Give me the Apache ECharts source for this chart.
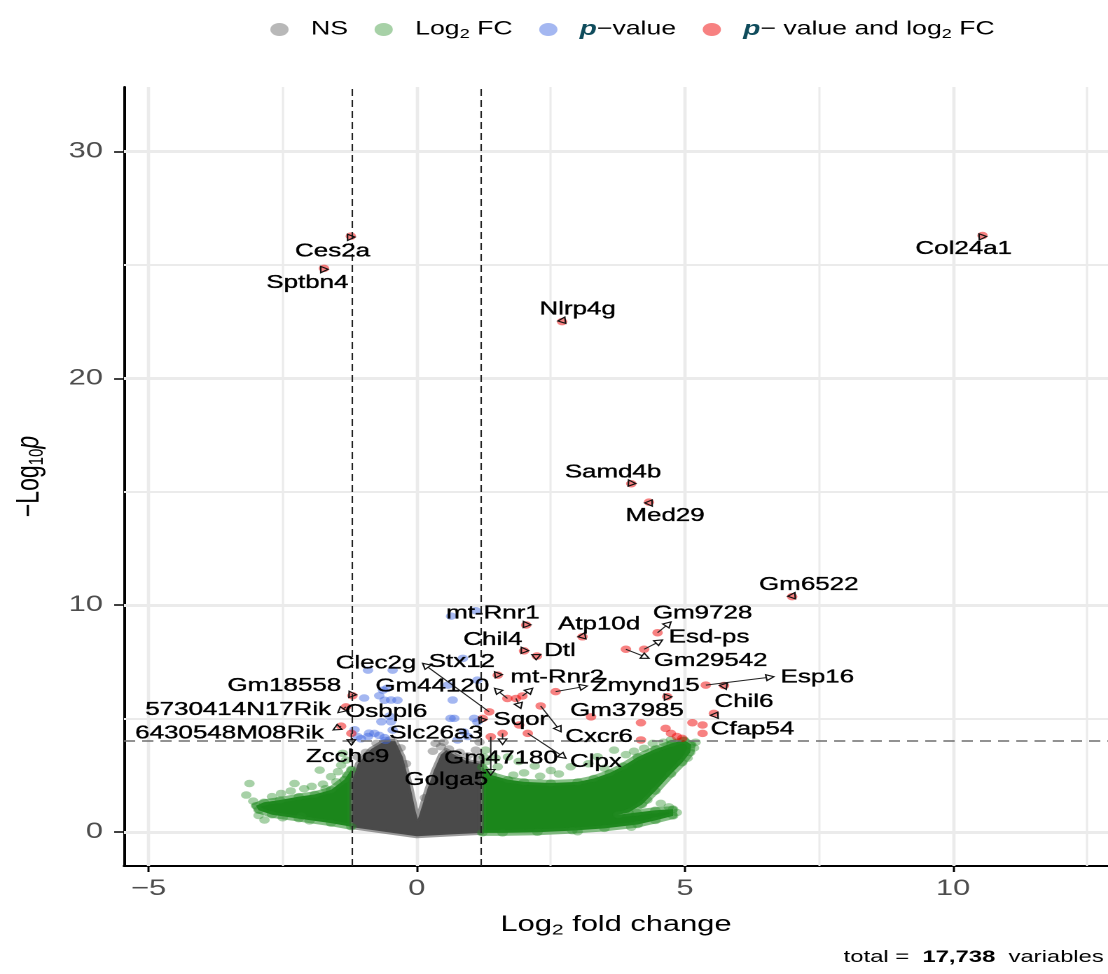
<!DOCTYPE html>
<html><head><meta charset="utf-8">
<script src="https://cdn.jsdelivr.net/npm/echarts@6/dist/echarts.min.js"></script>
<style>
html,body{margin:0;padding:0;overflow:hidden;background:#fff;width:1108px;height:974px}
#wrap{position:absolute;left:0;top:0;width:1108px;height:974px;overflow:hidden;background:#fff}
#chart{position:absolute;left:0;top:0;width:791px;height:974px;transform:scaleX(1.40076);transform-origin:0 0}
</style></head>
<body><div id="wrap"><div id="chart"></div></div>
<script>
// ---------- axis ticks & grid ----------
const xTicks = [-5, 0, 5, 10];
const yTicks = [0, 10, 20, 30];
const xMinor = [-2.5, 2.5, 7.5, 12.5];
const yMinor = [5, 15, 25];
const fcCutoffs = [-1.2, 1.2];
const pCutoff = 4;
const totalVariables = '17,738';

// ---------- dense point clouds (outlines) ----------
const nsOutline = [[-1.2,0.2],[-1.2,2.3],[-1.1,3.0],[-0.85,3.65],[-0.6,4.0],[-0.4,4.0],[-0.26,3.3],[-0.12,2.0],[-0.02,0.9],[0.02,0.55],[0.08,1.0],[0.2,1.9],[0.32,2.7],[0.45,3.4],[0.55,3.6],[0.7,3.4],[0.9,3.15],[1.2,3.0],[1.2,-0.05],[0.6,-0.12],[0.0,-0.2],[-0.6,0.0]];
const fcLeftOutline = [[-1.22,2.75],[-1.35,2.3],[-1.6,1.85],[-1.9,1.65],[-2.2,1.55],[-2.55,1.4],[-2.85,1.3],[-3.0,1.15],[-2.95,0.95],[-2.7,0.75],[-2.2,0.58],[-1.6,0.38],[-1.22,0.22]];
const fcRightOutline = [[1.22,2.85],[1.4,2.5],[1.7,2.3],[2.0,2.2],[2.5,2.15],[3.0,2.2],[3.3,2.35],[3.6,2.6],[3.85,2.9],[4.12,3.3],[4.45,3.65],[4.75,3.9],[4.98,4.05],[5.12,3.85],[5.1,3.5],[4.95,3.05],[4.74,2.55],[4.45,1.8],[4.2,1.2],[3.95,0.85],[3.75,0.75],[4.1,0.85],[4.45,0.95],[4.78,1.0],[4.78,0.7],[4.45,0.5],[4.12,0.32],[3.5,0.15],[2.9,0.05],[2.25,-0.02],[1.6,-0.05],[1.22,-0.05]];

// ---------- scattered points ----------
const nsPoints = [[0.35,3.9],[0.45,3.75],[0.6,3.65],[0.3,3.55],[0.8,3.5],[1.17,3.95],[1.1,3.6],[0.95,3.35],[-0.75,3.9],[-0.95,3.5],[-0.3,3.7],[-0.2,3.0],[0.15,1.5],[-1.1,3.3],[1.15,3.2],[-0.5,4.05],[0.5,3.95]];
const fcPoints = [[-3.12,2.13],[-3.18,1.62],[-3.05,1.35],[-2.95,0.72],[-2.84,0.52],[-2.7,1.55],[-2.53,1.69],[-2.35,1.8],[-2.28,2.13],[-2.1,1.9],[-1.96,2.0],[-1.81,2.72],[-1.75,2.1],[-1.6,2.43],[-1.5,2.2],[-1.47,2.65],[-1.41,2.94],[-1.32,3.16],[-1.38,3.46],[-1.3,2.5],[-2.5,0.62],[-2.0,0.48],[-1.7,1.9],[-2.15,0.7],
  [1.3,3.1],[1.28,3.6],[1.47,3.25],[1.51,2.87],[1.7,3.3],[1.8,2.5],[2.0,2.6],[2.2,2.9],[2.3,2.45],[2.5,2.7],[2.65,2.55],[2.87,2.87],[3.2,3.0],[3.37,3.31],[3.5,2.8],[3.68,3.6],[3.9,3.4],[4.05,3.55],[4.24,3.68],[4.4,3.9],[4.6,3.95],[4.74,4.05],[5.17,3.7],[5.2,3.95],[5.05,3.25],[4.55,1.25],[4.7,1.1],[4.85,0.85],[4.3,1.4],[3.0,0.0],[4.0,0.2],[1.25,3.3],[1.9,3.1]];
const pvalPoints = [[0.64,9.51],[1.10,9.75],[0.86,7.65],[-0.91,7.13],[-0.45,7.13],[-0.98,5.9],[-0.7,6.0],[-0.63,6.25],[-0.55,6.33],[-0.48,5.81],[-0.6,5.8],[-0.36,5.8],[0.67,5.81],[1.13,6.69],[0.58,6.47],[0.7,5.0],[0.63,5.0],[1.07,5.0],[-0.66,4.85],[-0.48,4.85],[-0.51,5.1],[-1.16,4.5],[-1.04,4.1],[-0.91,4.2],[-0.89,4.35],[-0.79,4.34],[-0.7,4.25],[-0.6,4.15],[-0.58,4.03],[-0.45,4.49],[-1.10,4.19],[0.88,4.4],[1.13,4.84],[0.76,4.05],[0.95,4.2]];
const sigPoints = [[1.91,4.71],[3.25,5.07],[4.18,4.81],[4.18,4.05],[4.64,4.56],[4.74,4.34],[4.85,4.2],[4.95,4.12],[5.14,4.81],[5.33,4.71],[5.33,4.34]];

// ---------- labelled genes ----------
const geneNames = ['Ces2a','Sptbn4','Col24a1','Nlrp4g','Samd4b','Med29','Gm6522','Gm9728','Esd-ps','Gm29542','Atp10d','Dtl','Chil4','mt-Rnr1','Stx12','mt-Rnr2','Gm44120','Sqor','Zmynd15','Gm37985','Esp16','Chil6','Cfap54','Cxcr6','Clpx','Gm47180','Golga5','Slc26a3','Clec2g','Gm18558','5730414N17Rik','Osbpl6','6430548M08Rik','Zcchc9'];
const geneX  = [-1.23,-1.73,10.55,2.71,4.0,4.33,7.0,4.49,4.24,3.90,3.09,2.24,2.0,2.04,1.51,1.97,1.69,1.85,2.59,4.67,5.39,5.73,5.54,2.31,2.07,1.60,1.38,1.23,1.35,-1.2,-1.32,null,-1.41,-1.22];
const geneY  = [26.27,24.85,26.3,22.5,15.35,14.54,10.37,8.78,8.05,8.05,8.6,7.75,7.98,9.12,6.91,5.99,5.88,5.88,6.18,5.96,6.47,6.45,5.22,5.55,4.34,4.34,4.19,5.0,5.29,6.0,5.51,null,4.66,4.34];
const labelX = [-1.57,-2.04,10.2,3.0,3.66,4.63,7.31,5.33,5.45,5.48,3.4,2.67,1.42,1.42,0.84,2.62,0.29,1.94,4.27,3.92,7.47,6.10,6.26,3.40,3.34,1.57,0.55,0.36,-0.76,-2.47,-3.33,-0.57,-3.49,-1.29];
const labelY = [25.6,24.2,25.7,23.05,15.85,13.94,10.88,9.63,8.58,7.53,9.15,7.98,8.46,9.63,7.5,6.81,6.42,4.93,6.43,5.34,6.81,5.73,4.52,4.19,3.09,3.24,2.28,4.34,7.43,6.43,5.37,5.29,4.34,3.31];
const headX  = [-1.29,-1.79,10.49,2.76,3.95,4.39,7.05,4.74,4.58,4.33,3.13,2.31,1.95,1.99,1.45,2.16,1.45,1.94,3.18,4.62,6.66,5.77,5.62,2.69,2.78,1.60,1.38,1.17,0.11,-1.26,-1.47,null,-1.56,-1.22];
const headY  = [26.08,24.66,26.1,22.7,15.52,14.36,10.55,9.26,8.46,7.65,8.78,7.82,8.14,9.28,7.06,6.33,6.33,5.44,6.43,5.8,6.84,6.28,5.0,4.41,3.24,3.85,2.5,4.78,7.43,6.2,5.25,null,4.49,3.82];

// ---------- styling ----------
const FONT = 'Liberation Sans, Arial, Helvetica, sans-serif';
const C_NS = 'rgba(77,77,77,0.5)', C_FC = 'rgba(34,139,34,0.5)', C_P = 'rgba(65,105,225,0.6)', C_SIG = 'rgba(238,0,0,0.62)';
const P_COLOR = '#0f4c5c';

const geneDots = [];
geneNames.forEach((n, i) => { if (geneX[i] != null) geneDots.push([geneX[i], geneY[i]]); });

function areaSeries(name, pts, fill, edge, lw, z) {
  return {
    type: 'custom', name, silent: true, z, clip: true,
    data: [pts[0]],
    renderItem: (params, api) => {
      const p = pts.map(d => api.coord(d));
      return { type: 'polygon', shape: { points: p },
        style: { fill, stroke: edge, lineWidth: lw, lineJoin: 'round' } };
    }
  };
}

function gridLine(axis, v, w) {
  const o = {}; o[axis] = v;
  o.lineStyle = { color: '#ebebeb', width: w, type: 'solid' };
  return o;
}

const gridMarks = [].concat(
  xTicks.map(v => gridLine('xAxis', v, 2.3)),
  xMinor.map(v => gridLine('xAxis', v, 1.5)),
  yTicks.map(v => gridLine('yAxis', v, 3)),
  yMinor.map(v => gridLine('yAxis', v, 2))
);

const cutMarks = [].concat(
  fcCutoffs.map(v => ({ xAxis: v, lineStyle: { color: '#222', width: 1.1, type: [7, 4] } })),
  [{ yAxis: pCutoff, lineStyle: { color: '#6e6e6e', width: 1.6, type: [8, 5] } }]
);

const richBase = {
  g: { width: 11 },
  t: { fontSize: 19, fontFamily: FONT, color: '#000', lineHeight: 24 },
  s: { fontSize: 13, fontFamily: FONT, color: '#000', lineHeight: 14, padding: [10, 0, 0, 0] },
  p: { fontSize: 20, fontFamily: FONT, color: P_COLOR, fontWeight: 'bold', fontStyle: 'italic', lineHeight: 24 }
};
const legendText = {
  'NS': '{g|}{t|NS}',
  'Log2 FC': '{g|}{t|Log}{s|2}{t| FC}',
  'p-value': '{g|}{p|p}{t|\u2212value}',
  'p-value and log2 FC': '{g|}{p|p}{t|\u2212 value and log}{s|2}{t| FC}'
};

const chart = echarts.init(document.getElementById('chart'), null, { renderer: 'canvas', devicePixelRatio: 2 });

const fmt = v => v < 0 ? '\u2212' + Math.abs(v) : String(v);

chart.setOption({
  animation: false,
  backgroundColor: '#fff',
  grid: { left: 87.6, right: 0, top: 87, bottom: 108, containLabel: false },
  legend: {
    top: 18, left: 193, padding: 0, itemGap: 19, itemWidth: 13, itemHeight: 13, icon: 'circle',
    selectedMode: false,
    data: ['NS', 'Log2 FC', 'p-value', 'p-value and log2 FC'],
    formatter: n => legendText[n],
    textStyle: { rich: richBase }
  },
  xAxis: {
    type: 'value', min: -5.46, max: 12.89,
    splitLine: { show: false },
    axisLine: { onZero: false, lineStyle: { color: '#000', width: 2 } },
    axisTick: { customValues: xTicks, length: 6, lineStyle: { color: '#000', width: 1.5 } },
    axisLabel: { customValues: xTicks, fontSize: 22, fontFamily: FONT, color: '#4d4d4d', margin: 12, formatter: fmt },
    name: '{t|Log}{s|2}{t| fold change}', nameLocation: 'middle', nameGap: 46,
    nameTextStyle: { rich: {
      t: { fontSize: 22, fontFamily: FONT, color: '#000', lineHeight: 26 },
      s: { fontSize: 15, fontFamily: FONT, color: '#000', lineHeight: 16, padding: [11, 0, 0, 0] } } }
  },
  yAxis: {
    type: 'value', min: -1.51, max: 32.85,
    splitLine: { show: false },
    axisLine: { onZero: false, lineStyle: { color: '#000', width: 2 } },
    axisTick: { customValues: yTicks, length: 7, lineStyle: { color: '#000', width: 1.5 } },
    axisLabel: { customValues: yTicks, fontSize: 22, fontFamily: FONT, color: '#4d4d4d', margin: 15 },
    name: '{t|\u2212Log}{s|10}{i|p}', nameLocation: 'middle', nameGap: 54, nameRotate: 90,
    nameTextStyle: { rich: {
      t: { fontSize: 23, fontFamily: FONT, color: '#000', lineHeight: 27 },
      s: { fontSize: 15, fontFamily: FONT, color: '#000', lineHeight: 16, padding: [11, 0, 0, 0] },
      i: { fontSize: 23, fontFamily: FONT, color: '#000', fontStyle: 'italic', lineHeight: 27 } } }
  },
  graphic: [{
    type: 'text', right: 3, top: 949, silent: true,
    style: { text: '{a|total =  }{b|' + totalVariables + '}{a|  variables}', rich: {
      a: { fontSize: 17, fontFamily: FONT, fill: '#000', color: '#000' },
      b: { fontSize: 17, fontFamily: FONT, fontWeight: 'bold', fill: '#000', color: '#000' } } }
  }],
  series: [
    { type: 'scatter', name: 'grid', silent: true, z: 1, data: [],
      markLine: { z: 1, silent: true, symbol: 'none', label: { show: false }, animation: false, data: gridMarks } },
    areaSeries('fcLeftArea', fcLeftOutline, '#1b861b', 'rgba(34,139,34,0.55)', 6, 2),
    areaSeries('fcRightArea', fcRightOutline, '#1b861b', 'rgba(34,139,34,0.55)', 6, 2),
    areaSeries('nsArea', nsOutline, '#4a4a4a', 'rgba(77,77,77,0.55)', 4, 2),
    { type: 'scatter', name: 'Log2 FC', z: 3, symbolSize: 7.5, itemStyle: { color: C_FC },
      data: fcPoints.concat(fcLeftOutline, fcRightOutline) },
    { type: 'scatter', name: 'NS', z: 3, symbolSize: 7.5, itemStyle: { color: C_NS },
      data: nsPoints },
    { type: 'scatter', name: 'p-value', z: 4, symbolSize: 7.5, itemStyle: { color: C_P },
      data: pvalPoints },
    { type: 'scatter', name: 'p-value and log2 FC', z: 5, symbolSize: 7.5, itemStyle: { color: C_SIG },
      data: sigPoints.concat(geneDots) },
    { type: 'scatter', name: 'cutoffs', silent: true, z: 6, data: [],
      markLine: { z: 6, silent: true, symbol: 'none', label: { show: false }, animation: false, data: cutMarks } },
    { type: 'custom', name: 'arrows', silent: true, z: 7, clip: false,
      data: geneNames.map((n, i) => [labelX[i], labelY[i]]),
      renderItem: (params, api) => {
        const i = params.dataIndex;
        if (headX[i] == null || geneX[i] == null) return;
        const a = api.coord([geneX[i], geneY[i]]), b = api.coord([headX[i], headY[i]]);
        const dx = b[0] - a[0], dy = b[1] - a[1], L = Math.hypot(dx, dy) || 1;
        const ux = dx / L, uy = dy / L, len = 5.5, w = 3;
        const base = [b[0] - ux * len, b[1] - uy * len];
        const tri = [[b[0], b[1]], [base[0] - uy * w, base[1] + ux * w], [base[0] + uy * w, base[1] - ux * w]];
        const kids = [];
        if (L > len) kids.push({ type: 'line', shape: { x1: a[0], y1: a[1], x2: base[0], y2: base[1] }, style: { stroke: '#222', lineWidth: 1 } });
        kids.push({ type: 'polygon', shape: { points: tri }, style: { fill: 'none', stroke: '#111', lineWidth: 1.1 } });
        return { type: 'group', children: kids };
      } },
    { type: 'custom', name: 'labels', silent: true, z: 8, clip: false,
      data: geneNames.map((n, i) => [labelX[i], labelY[i]]),
      renderItem: (params, api) => {
        const i = params.dataIndex;
        const p = api.coord([labelX[i], labelY[i]]);
        return { type: 'text', x: p[0], y: p[1],
          style: { text: geneNames[i], align: 'center', verticalAlign: 'middle', fontSize: 18.5, fontFamily: FONT, fill: '#000', stroke: '#000', lineWidth: 0.35 } };
      } }
  ]
});
</script>
</body></html>
